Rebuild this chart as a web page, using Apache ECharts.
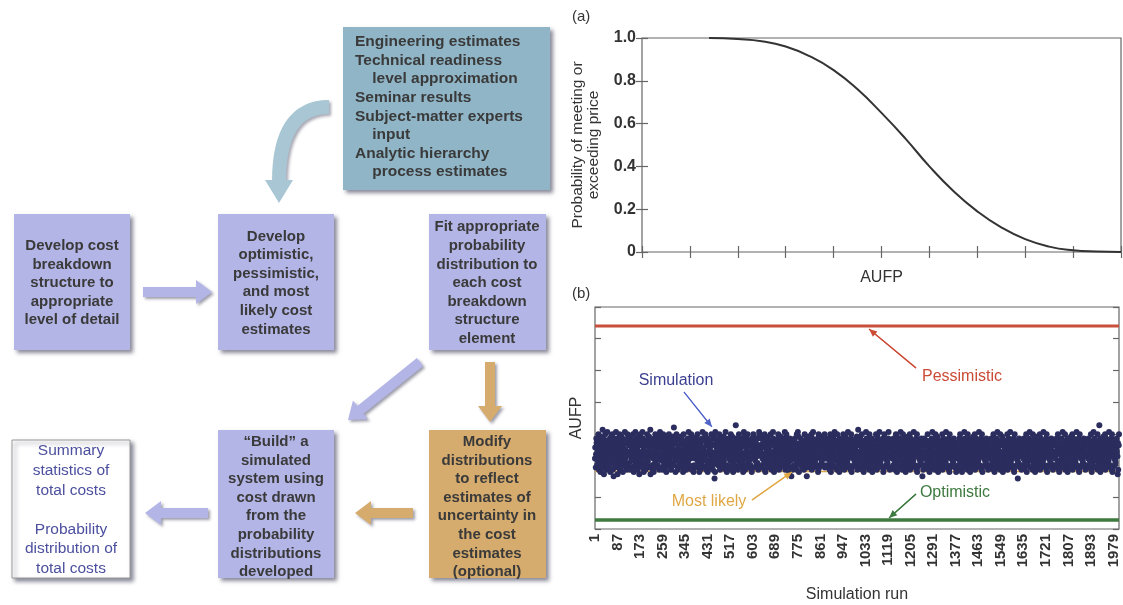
<!DOCTYPE html>
<html>
<head>
<meta charset="utf-8">
<script src="https://cdn.jsdelivr.net/npm/echarts@6/dist/echarts.min.js"></script>
<style>
html, body { margin: 0; padding: 0; background: #fff; }
#main { width: 1123px; height: 605px; }
</style>
</head>
<body>
<div id="main"></div>
<script>
//---- (a) probability of meeting or exceeding price ----
var aufpX = [1.4, 2.0, 2.5, 3.0, 3.5, 4.0, 4.5, 5.0, 5.5, 6.0, 6.5, 7.0, 7.5, 8.0, 8.5, 9.0, 9.5, 10.0];
var probY = [1.0, 0.995, 0.985, 0.96, 0.915, 0.85, 0.76, 0.65, 0.53, 0.40, 0.285, 0.19, 0.115, 0.06, 0.025, 0.008, 0.002, 0.0];
var probTicks = ['0', '0.2', '0.4', '0.6', '0.8', '1.0'];

//---- (b) simulation runs ----
var runCount = 2000;
var pessimistic = 6.4;
var mostLikely = 1.81;
var optimistic = 0.28;
// one letter per plotted run, a = 1.52 ... z = 3.27 (AUFP units, 0.07 per step)
var simCodes = [
    'kpgmtrhqnjvlfosiuemkrgpxnhtdlqjvmfsoiwkgrnplhtejqumsvofkcringlpwtmhqdsjnokvfrlgiumtpeqnhsjwkolrgfmvt',
    'nhqiumfrtkogslpvjeqmhrwnktgopfiusldqmvhjrnkwgtoepmlsfiqhnvkrjgtumpoxdlshnqfrkemtgivpjolsnhrqkufmwgtp',
    'sjmqfovkhrnltgpeiumqshjvnrktofglpmqiuhyrsnjektvomgfqplhisrnkumtjgoevqhnlrpkfsmiotjwgqhnrpkvlfumsoeth',
    'qmkrgnthpvjolsiemfrqnkhtwgojpmsluvkfrnhqetigmpjosrkvnqhlfmtuibewkrpnsqjhomlvtfgikrqnmpshujotlgwfnqe',
    'hrnptmkgsjqvflouiremqhnktpzgjrslfomvqhkntiprsgljemwqukfhnrtopvmigsjqlkhrnfetmpovuqgkjsrnhmlitpfqwgv',
    'ognqtlhkmrpsjfvieuqnmkhtorgplsjqvmfkhnrwtiegmpqsoljkhrnvtfmqgiupsrkonhljqmtwfgpvsnhkriqoemtjlgcrnpf',
    'kqmhsntprgjfvolwiuemnqkrthpsgljoqfmnvrhkitcpgsmqujnlorkhvfmtqwgpisnjkrlomhqtefvgnsrpkuijmlhqrotnvgk',
    'mrhkqpntgsolfjviemqruhnktpgwosljmqfvnhrkietpmgsqjlonhvrkfmtuqpgisnjwkhrloqmftvegpnsqkhrjimotnlugfqx',
    'rjnmhtkqgovsflpiemrkqhnwtgjosplmfvqhrnkitgempsqolrjhkvnfmutqgpiwsnkjhrlomqtefgvpsnkrhqjmiotwnlgfrqp',
    'gmqkrnhtpsjfolviuemqkhrntgpswjolmfqvhnrkitpegmsqjoulnrhkvftmqgipsnjkwrlhqomtfvegpnsrkhqjmiotnlcrfqk',
    'thnqkmrpgjsvolfiemqrnhktpwgosjlmfqvhrnkuitepmgsqjolnrhkvfmtqigpsnjwkrlhqomtfevgpnsrkhqjmiotnlgrqpe',
    'npkrmqhgtsjvolfiemqnrhkwtpgojslmqfvhnrkitepgmsqjolnurhkvfmqtgipsnjkrwlhqomtfvgepnsrkqhjmoitnlgrfqm',
    'pnrkhmqtgjslovfieqmrnhtkpwgsojlmqfvhnrkuiteqmgpsjlonrkhvfmqtigpswnjkrlhqomtfevgpnsrkqhjbmiotlngrqp',
    'fqmhrkntpgjsolviemqhrnktwpgsojlmqfvhrnkiteupmgsqjlonrhkvfmtqgipsnjwkrlhqomtfvegpnsrkhqjmiotnlgrfqh',
    'lsnqkhmrtpgjvofiemqrhnktpgwsojlmqvfhnrkiteqpmgsjlonurhkvfmtqgpisnjkrwlhqomtfevgpnsrkqhjmiotnlgrfqs',
    'hqmnrktpgsjolvfiemqhrwnktpgosjlmqvfhnrkzitepmgqsjlounrhkvfmtqgipsnjkwrlhqomtfvegpnsrkhqjimotnldrfqv'
].join('');

var runs = [];
for (var r = 1; r <= runCount; r++) runs.push(String(r));

var simValues = simCodes.split('').map(function (c) {
    return +(1.52 + (c.charCodeAt(0) - 97) * 0.07).toFixed(3);
});
var simData = simValues.map(function (v, i) {
    return [Math.round(i * (runCount - 1) / (simValues.length - 1)), v];
});
var curveData = aufpX.map(function (x, i) { return [x, probY[i]]; });

var FONT = '"Liberation Sans", Arial, Helvetica, sans-serif';

//---- flowchart helpers ----
function box(x, y, w, h, fill, stroke) {
    return {
        type: 'rect', shape: { x: x, y: y, width: w, height: h },
        style: {
            fill: fill, stroke: stroke || null, lineWidth: 1,
            shadowBlur: 4, shadowOffsetX: 3, shadowOffsetY: 3, shadowColor: 'rgba(40,40,70,0.55)'
        }
    };
}
function txt(x, y, text, color, align, size, lh, weight) {
    return {
        type: 'text', z: 10,
        style: {
            text: text, x: x, y: y, fill: color || '#3a3a3a',
            fontFamily: FONT, fontSize: size || 15, fontWeight: weight || 'bold',
            lineHeight: lh || 18.6,
            align: align || 'center', textAlign: align || 'center',
            verticalAlign: 'middle', textVerticalAlign: 'middle'
        }
    };
}
function arrowPts(x0, y0, x1, y1, t, hw, hl) {
    var dx = x1 - x0, dy = y1 - y0, len = Math.sqrt(dx * dx + dy * dy);
    var ux = dx / len, uy = dy / len, nx = -uy, ny = ux;
    var bx = x1 - ux * hl, by = y1 - uy * hl;
    return [[x0 + nx * t, y0 + ny * t], [bx + nx * t, by + ny * t], [bx + nx * hw, by + ny * hw],
        [x1, y1], [bx - nx * hw, by - ny * hw], [bx - nx * t, by - ny * t], [x0 - nx * t, y0 - ny * t]];
}
function fatArrow(x0, y0, x1, y1, fill) {
    return {
        type: 'polygon', shape: { points: arrowPts(x0, y0, x1, y1, 5, 12, 16) },
        style: { fill: fill, shadowBlur: 3, shadowOffsetX: 2, shadowOffsetY: 2, shadowColor: 'rgba(40,40,70,0.45)' }
    };
}
function thinArrow(x0, y0, x1, y1, color) {
    return [
        { type: 'line', z: 20, shape: { x1: x0, y1: y0, x2: x1, y2: y1 }, style: { stroke: color, lineWidth: 1.2 } },
        { type: 'polygon', z: 20, shape: { points: arrowPts(x0, y0, x1, y1, 0.6, 3.5, 8) }, style: { fill: color } }
    ];
}

var LAV = '#b3b5e6', TAN = '#d5ab6e', STEEL = '#8fb5c7';

var graphics = [
    box(343, 27, 207, 163, STEEL),
    txt(355, 107, 'Engineering estimates\nTechnical readiness\n    level approximation\nSeminar results\nSubject-matter experts\n    input\nAnalytic hierarchy\n    process estimates', '#3a3a3a', 'left', 15.5),
    {
        type: 'bezierCurve', shape: { x1: 329, y1: 107, x2: 279, y2: 182, cpx1: 279, cpy1: 107 },
        style: { stroke: '#a8c6d3', lineWidth: 14, fill: null, shadowBlur: 3, shadowOffsetX: 2, shadowOffsetY: 2, shadowColor: 'rgba(40,40,70,0.4)' }
    },
    { type: 'polygon', shape: { points: [[265, 180], [293, 180], [279, 203]] }, style: { fill: '#a8c6d3' } },

    box(14, 214, 116, 136, LAV),
    txt(72, 283, 'Develop cost\nbreakdown\nstructure to\nappropriate\nlevel of detail'),
    fatArrow(143, 292, 212, 292, LAV),
    box(218, 214, 116, 136, LAV),
    txt(276, 283, 'Develop\noptimistic,\npessimistic,\nand most\nlikely cost\nestimates'),
    box(429, 214, 117, 136, LAV),
    txt(487, 283, 'Fit appropriate\nprobability\ndistribution to\neach cost\nbreakdown\nstructure\nelement'),
    fatArrow(420, 362, 348, 420, LAV),
    fatArrow(490, 362, 490, 422, TAN),
    box(429, 430, 117, 148, TAN),
    txt(487, 507, 'Modify\ndistributions\nto reflect\nestimates of\nuncertainty in\nthe cost\nestimates\n(optional)'),
    fatArrow(413, 513, 355, 513, TAN),
    box(218, 430, 116, 148, LAV),
    txt(276, 507, '\u201CBuild\u201D a\nsimulated\nsystem using\ncost drawn\nfrom the\nprobability\ndistributions\ndeveloped'),
    fatArrow(208, 513, 145, 513, LAV),
    box(12, 440, 118, 138, '#ffffff', '#9a9a9a'),
    txt(71, 510, 'Summary\nstatistics of\ntotal costs\n\nProbability\ndistribution of\ntotal costs', '#4b4f9e', 'center', 15.5, 19.6, 'normal'),

    //---- annotations for (b) ----
    txt(676, 381, 'Simulation', '#3c3f8f', 'center', 16, 18, 'normal'),
    txt(962, 377, 'Pessimistic', '#cc4b35', 'center', 16, 18, 'normal'),
    txt(709, 502, 'Most likely', '#e0a845', 'center', 16, 18, 'normal'),
    txt(955, 493, 'Optimistic', '#3d7a3f', 'center', 16, 18, 'normal')
].concat(thinArrow(684, 392, 712, 427, '#4f63c8'))
 .concat(thinArrow(916, 368, 869, 329, '#cc4b35'))
 .concat(thinArrow(752, 500, 792, 472, '#e0a845'))
 .concat(thinArrow(916, 494, 889, 518, '#3d7a3f'));

var dom = document.getElementById('main');
var myChart = echarts.init(dom);
var option;

var tickIn = { show: true, inside: true, length: 6, lineStyle: { color: '#666', width: 1.2 } };
var noLine = { show: false };

option = {
    animation: false,
    textStyle: { fontFamily: FONT },
    title: [
        { text: '(a)', left: 567, top: 4, textStyle: { fontSize: 15, fontWeight: 'normal', color: '#333', fontFamily: FONT } },
        { text: '(b)', left: 567, top: 281, textStyle: { fontSize: 15, fontWeight: 'normal', color: '#333', fontFamily: FONT } }
    ],
    grid: [
        { left: 642, top: 38, width: 479, height: 214, show: true, borderColor: '#666', borderWidth: 1.2 },
        { left: 595, top: 307, width: 524, height: 222, show: true, borderColor: '#666', borderWidth: 1.2 }
    ],
    xAxis: [
        {
            gridIndex: 0, type: 'value', min: 0, max: 10, interval: 1,
            name: 'AUFP', nameLocation: 'middle', nameGap: 18,
            nameTextStyle: { fontSize: 16, color: '#333', fontFamily: FONT },
            axisLine: noLine, axisTick: tickIn, axisLabel: { show: false }, splitLine: { show: false }
        },
        {
            gridIndex: 0, type: 'value', position: 'top', min: 0, max: 10, interval: 1,
            axisLine: noLine, axisTick: tickIn, axisLabel: { show: false }, splitLine: { show: false }
        },
        {
            gridIndex: 1, type: 'category', data: runs, boundaryGap: false,
            name: 'Simulation run', nameLocation: 'middle', nameGap: 58,
            nameTextStyle: { fontSize: 16, color: '#333', fontFamily: FONT },
            axisLine: noLine, axisTick: { show: false },
            axisLabel: { interval: 85, rotate: 90, margin: 5, fontSize: 15, fontWeight: 'bold', color: '#333', fontFamily: FONT }
        }
    ],
    yAxis: [
        {
            gridIndex: 0, type: 'value', min: 0, max: 1, interval: 0.2,
            name: 'Probability of meeting or\nexceeding price', nameLocation: 'middle', nameGap: 40,
            nameTextStyle: { fontSize: 15.5, color: '#333', lineHeight: 16, fontFamily: FONT },
            axisLine: noLine, axisTick: tickIn, splitLine: { show: false },
            axisLabel: {
                margin: 6, fontSize: 16, fontWeight: 'bold', color: '#333', fontFamily: FONT,
                formatter: function (v) { return probTicks[Math.round(v * 5)]; }
            }
        },
        {
            gridIndex: 0, type: 'value', position: 'right', min: 0, max: 1, interval: 0.2,
            axisLine: noLine, axisTick: tickIn, axisLabel: { show: false }, splitLine: { show: false }
        },
        {
            gridIndex: 1, type: 'value', min: 0, max: 7, interval: 1,
            name: 'AUFP', nameLocation: 'middle', nameGap: 10,
            nameTextStyle: { fontSize: 16, color: '#333', fontFamily: FONT },
            axisLine: noLine, axisTick: tickIn, axisLabel: { show: false }, splitLine: { show: false }
        },
        {
            gridIndex: 1, type: 'value', position: 'right', min: 0, max: 7, interval: 1,
            axisLine: noLine, axisTick: tickIn, axisLabel: { show: false }, splitLine: { show: false }
        }
    ],
    series: [
        {
            name: 'Exceedance', type: 'line', xAxisIndex: 0, yAxisIndex: 0,
            data: curveData, smooth: true, showSymbol: false,
            lineStyle: { color: '#333', width: 2 }
        },
        {
            name: 'Most likely', type: 'line', xAxisIndex: 2, yAxisIndex: 2, z: 1,
            data: [[0, mostLikely], [runCount - 1, mostLikely]], showSymbol: false,
            lineStyle: { color: '#e0a845', width: 1.5 }
        },
        {
            name: 'Simulation', type: 'scatter', xAxisIndex: 2, yAxisIndex: 2, z: 3,
            data: simData, symbolSize: 6, largeThreshold: 5000,
            itemStyle: { color: '#2b2d5e', opacity: 1 }
        },
        {
            name: 'Pessimistic', type: 'line', xAxisIndex: 2, yAxisIndex: 2,
            data: [[0, pessimistic], [runCount - 1, pessimistic]], showSymbol: false,
            lineStyle: { color: '#c9503c', width: 3 }
        },
        {
            name: 'Optimistic', type: 'line', xAxisIndex: 2, yAxisIndex: 2,
            data: [[0, optimistic], [runCount - 1, optimistic]], showSymbol: false,
            lineStyle: { color: '#3e7a40', width: 3.5 }
        }
    ],
    graphic: graphics
};

if (option && typeof option === 'object') {
    myChart.setOption(option);
}
</script>
</body>
</html>
